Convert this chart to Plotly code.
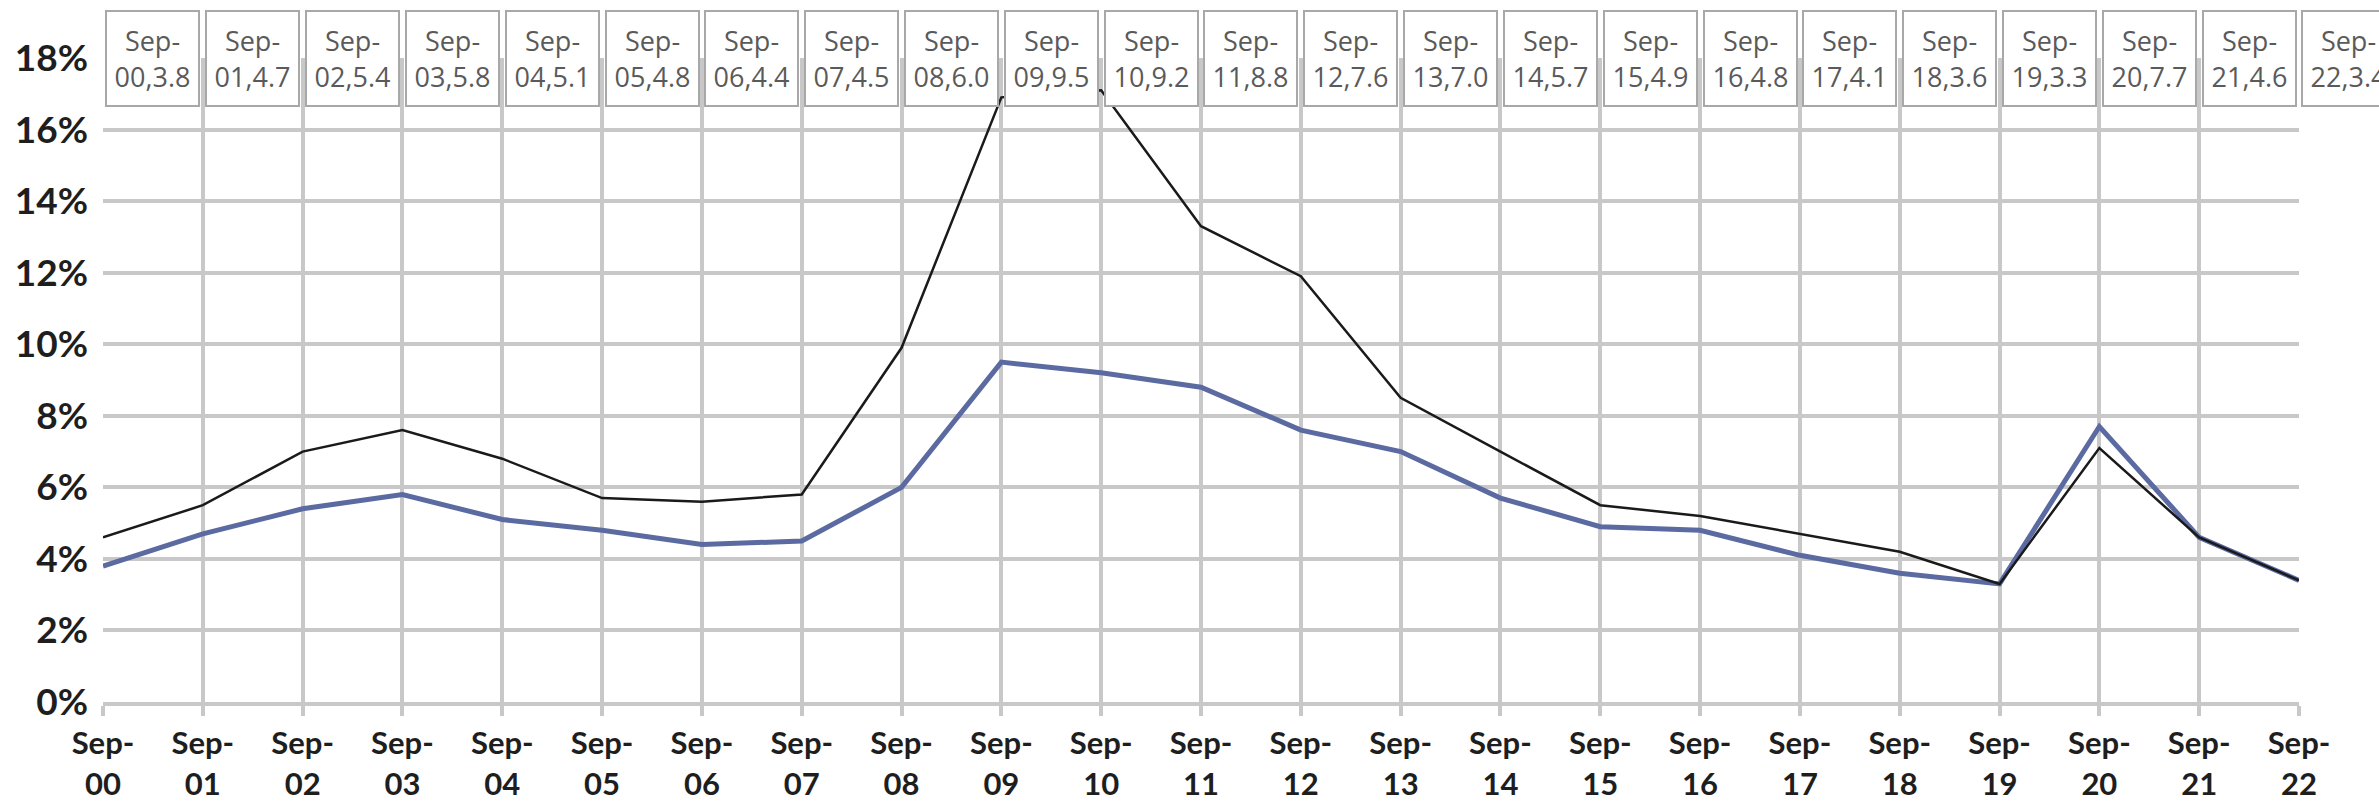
import plotly.graph_objects as go

# Yearly September readings, 2000-2022
years = ["00", "01", "02", "03", "04", "05", "06", "07", "08", "09", "10", "11",
         "12", "13", "14", "15", "16", "17", "18", "19", "20", "21", "22"]
categories = ["Sep-" + y for y in years]

# Labelled series (blue) and the wider series (black), in percent
blue_vals = [3.8, 4.7, 5.4, 5.8, 5.1, 4.8, 4.4, 4.5, 6.0, 9.5, 9.2, 8.8,
             7.6, 7.0, 5.7, 4.9, 4.8, 4.1, 3.6, 3.3, 7.7, 4.6, 3.4]
black_vals = [4.6, 5.5, 7.0, 7.6, 6.8, 5.7, 5.6, 5.8, 9.9, 16.9, 17.1, 13.3,
              11.9, 8.5, 7.0, 5.5, 5.2, 4.7, 4.2, 3.3, 7.1, 4.6, 3.4]

y_ticks = [0, 2, 4, 6, 8, 10, 12, 14, 16, 18]
y_max = 18

GRID = "#c8c8c8"
xs = list(range(len(categories)))
n_steps = len(categories) - 1

fig = go.Figure()
fig.add_trace(go.Scatter(
    x=xs, y=blue_vals, mode="lines",
    line=dict(color="#5b6aa0", width=5), cliponaxis=False, showlegend=False))
fig.add_trace(go.Scatter(
    x=xs, y=black_vals, mode="lines",
    line=dict(color="#1a1a1a", width=2.5), cliponaxis=False, showlegend=False))

# Data labels for the blue series, in a row along the top edge; each box
# sits half a step to the right of its category (the last one runs off).
for i, (cat, v) in enumerate(zip(categories, blue_vals)):
    head, tail = cat.split("-")
    fig.add_annotation(
        x=(i + 0.5) / n_steps, xref="x domain", xanchor="center",
        y=y_max, yref="y", yanchor="middle",
        text=f"{head}-<br>{tail},{v:.1f}",
        showarrow=False, align="center",
        width=89, height=91,
        bgcolor="white", bordercolor="#a8a8a8", borderwidth=2, borderpad=1,
        font=dict(family="Open Sans", size=27, color="#5a5a5a"))

tick_text = [f"Sep-<br>{y}" for y in years]

fig.update_layout(
    width=2379, height=802,
    margin=dict(l=103, r=80, t=58, b=100),
    paper_bgcolor="white", plot_bgcolor="white",
    xaxis=dict(
        range=[0, n_steps],
        tickmode="array", tickvals=xs, ticktext=tick_text,
        tickfont=dict(family="Lato", size=31, color="#1e1e1e", weight="bold"),
        showgrid=True, gridcolor=GRID, gridwidth=4,
        zeroline=True, zerolinecolor="rgba(0,0,0,0)", zerolinewidth=1,
        showline=True, linecolor=GRID, linewidth=4,
        ticks="outside", ticklen=10, tickwidth=4, tickcolor=GRID,
        ticklabelstandoff=1, automargin=False,
        fixedrange=True,
    ),
    yaxis=dict(
        range=[0, y_max],
        tickmode="array", tickvals=y_ticks,
        ticktext=[f"{t}%" for t in y_ticks],
        tickfont=dict(family="Lato", size=37, color="#1e1e1e", weight="bold"),
        showgrid=True, gridcolor=GRID, gridwidth=4,
        zeroline=False, showline=False, ticks="", ticklabelstandoff=14,
        automargin=False,
        fixedrange=True,
    ),
)

fig.write_html("out.html")
